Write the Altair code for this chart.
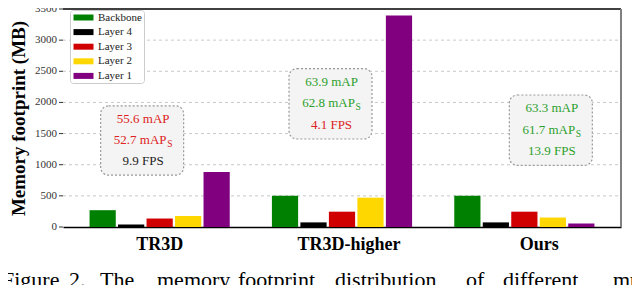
import altair as alt
import pandas as pd

models = ["TR3D", "TR3D-higher", "Ours"]
layer_names = ["Backbone", "Layer 4", "Layer 3", "Layer 2", "Layer 1"]
layer_colors = ["#008000", "#000000", "#d00000", "#ffd700", "#800080"]

backbone = [270, 502, 502]
layer4 = [40, 74, 74]
layer3 = [136, 246, 246]
layer2 = [177, 471, 152]
layer1 = [883, 3395, 58]

y_ticks = [0, 500, 1000, 1500, 2000, 2500, 3000, 3500]

# annotation boxes
ann_dx = [-17.5, -11.5, 26.5]
box_top = [1946, 2543, 2119]
box_bottom = [832, 1413, 989]
map_text = ["55.6 mAP", "63.9 mAP", "63.3 mAP"]
maps_text = ["52.7 mAP", "62.8 mAP", "61.7 mAP"]
fps_text = ["9.9 FPS", "4.1 FPS", "13.9 FPS"]
map_y = [1726, 2334, 1915]
maps_y = [1397, 1993, 1565]
fps_y = [1052, 1643, 1224]
RED, GREEN, BLACK = "#dd2222", "#2ca02c", "#222222"
map_color = [RED, GREEN, GREEN]
maps_color = [RED, GREEN, GREEN]
fps_color = [BLACK, RED, GREEN]

caption_words = ["Figure", "2.", "The", "memory", "footprint", "distribution",
                 "of", "different", "multi-"]
caption_page_x = [2, 69, 100, 157, 238, 335, 466, 503, 613]

SERIF = "Liberation Serif"
PLOT_LEFT = 63
HALF_BAND = 558 / 3.06 / 2

rows = []
for name, vals in zip(layer_names, [backbone, layer4, layer3, layer2, layer1]):
    for m, v in zip(models, vals):
        rows.append({"model": m, "layer": name, "value": v})
df = pd.DataFrame(rows)

x_axis = alt.Axis(title=None, labelFont=SERIF, labelFontSize=18,
                  labelFontWeight="bold", labelColor="black",
                  ticks=False, domainColor="black", domainWidth=1.5,
                  labelPadding=8, labelAngle=0, grid=False,
                  labelOffset={"condition": [
                      {"test": "datum.value === 'Ours'", "value": 15},
                      {"test": "datum.value === 'TR3D-higher'", "value": 7}],
                      "value": 0})
x_scale = alt.Scale(paddingInner=0, paddingOuter=0.03)

y_axis = alt.Axis(title="Memory footprint (MB)", titleFont=SERIF,
                  titleFontSize=19, titleFontWeight="bold",
                  titleColor="black", titlePadding=35,
                  labels=False, ticks=False, grid=False, domain=False)
y_scale = alt.Scale(domain=[0, 3500], nice=False)


def xe():
    return alt.X("model:N", sort=models, scale=x_scale, axis=x_axis)


def ye(field):
    return alt.Y(field, scale=y_scale, axis=y_axis)


tick_df = pd.DataFrame({"v": y_ticks, "label": [str(t) for t in y_ticks]})
grid_df = pd.DataFrame({"v": y_ticks[1:-1]})

grid = alt.Chart(grid_df).mark_rule(color="#bbbbbb", strokeWidth=0.8,
                                    strokeDash=[3, 3]).encode(
    y=ye("v:Q"), x=alt.value(0), x2=alt.value(558))
ticks = alt.Chart(tick_df).mark_rule(color="#333333", strokeWidth=1).encode(
    y=ye("v:Q"), x=alt.value(-4), x2=alt.value(0))
tick_labels = alt.Chart(tick_df).mark_text(
    font=SERIF, fontSize=11, color="#333333", align="right",
    baseline="middle").encode(y=ye("v:Q"), x=alt.value(-6), text="label:N")

bars = alt.Chart(df).mark_bar().encode(
    x=xe(),
    xOffset=alt.XOffset("layer:N", sort=layer_names,
                        scale=alt.Scale(paddingInner=0.08, paddingOuter=0.74)),
    y=ye("value:Q"),
    color=alt.Color("layer:N", sort=layer_names,
                    scale=alt.Scale(domain=layer_names, range=layer_colors),
                    legend=alt.Legend(title=None, orient="none", legendX=7, legendY=1,
                                      symbolType="M-2,-0.6L2,-0.6L2,0.6L-2,0.6Z",
                                      symbolSize=100, symbolStrokeWidth=0,
                                      symbolOpacity=1,
                                      labelFont=SERIF, labelFontSize=11,
                                      labelColor="#222222", padding=2,
                                      rowPadding=2.6, fillColor="white",
                                      strokeColor="#cccccc", cornerRadius=3,
                                      symbolOffset=6, labelOffset=9)),
)

layers = [bars]

for i, m in enumerate(models):
    dx = ann_dx[i] + HALF_BAND
    bdf = pd.DataFrame({"model": [m], "top": [box_top[i]], "bottom": [box_bottom[i]]})
    layers.append(
        alt.Chart(bdf).mark_bar(width=83, cornerRadius=8, fill="#f4f4f4",
                                stroke="#999999", strokeDash=[2, 2], strokeWidth=1.2)
        .encode(x=xe(), xOffset=alt.value(dx), y=ye("top:Q"), y2="bottom:Q")
    )
    for txt, yv, col, shift in [(map_text[i], map_y[i], map_color[i], 1),
                                (maps_text[i], maps_y[i], maps_color[i], -2),
                                (fps_text[i], fps_y[i], fps_color[i], 1)]:
        tdf = pd.DataFrame({"model": [m], "t": [txt], "v": [yv]})
        layers.append(
            alt.Chart(tdf).mark_text(font=SERIF, fontSize=13, color=col,
                                     baseline="middle", align="center")
            .encode(x=xe(), xOffset=alt.value(dx + shift), y=ye("v:Q"), text="t:N")
        )
    sdf = pd.DataFrame({"model": [m], "t": ["S"], "v": [maps_y[i]]})
    layers.append(
        alt.Chart(sdf).mark_text(font=SERIF, fontSize=9.5, color=maps_color[i],
                                 baseline="middle", align="left", dy=4)
        .encode(x=xe(), xOffset=alt.value(dx + 25), y=ye("v:Q"), text="t:N")
    )

top_rule = alt.Chart(pd.DataFrame({"v": [3500]})).mark_rule(
    color="black", strokeWidth=1.5).encode(y=ye("v:Q"))
right_rule = alt.Chart(pd.DataFrame({"v": [0]})).mark_rule(
    color="#808080", strokeWidth=2).encode(
    x=alt.value(558), y=alt.value(0), y2=alt.value(218))

cap_layers = []
for w, px in zip(caption_words, caption_page_x):
    cap_layers.append(
        alt.Chart(pd.DataFrame({"t": [w]})).mark_text(
            font=SERIF, fontSize=22, color="black", align="left",
            baseline="alphabetic").encode(
            x=alt.value(px - PLOT_LEFT), y=alt.value(278), text="t:N"))

chart = alt.layer(grid, ticks, tick_labels, *layers, top_rule, right_rule,
                  *cap_layers).properties(
    width=558, height=218,
    autosize=alt.AutoSizeParams(type="none"),
    padding={"left": 55, "top": 1, "right": 11, "bottom": 58},
).configure_view(stroke=None)

chart.save("out.html", embed_options={"renderer": "svg", "actions": False})
